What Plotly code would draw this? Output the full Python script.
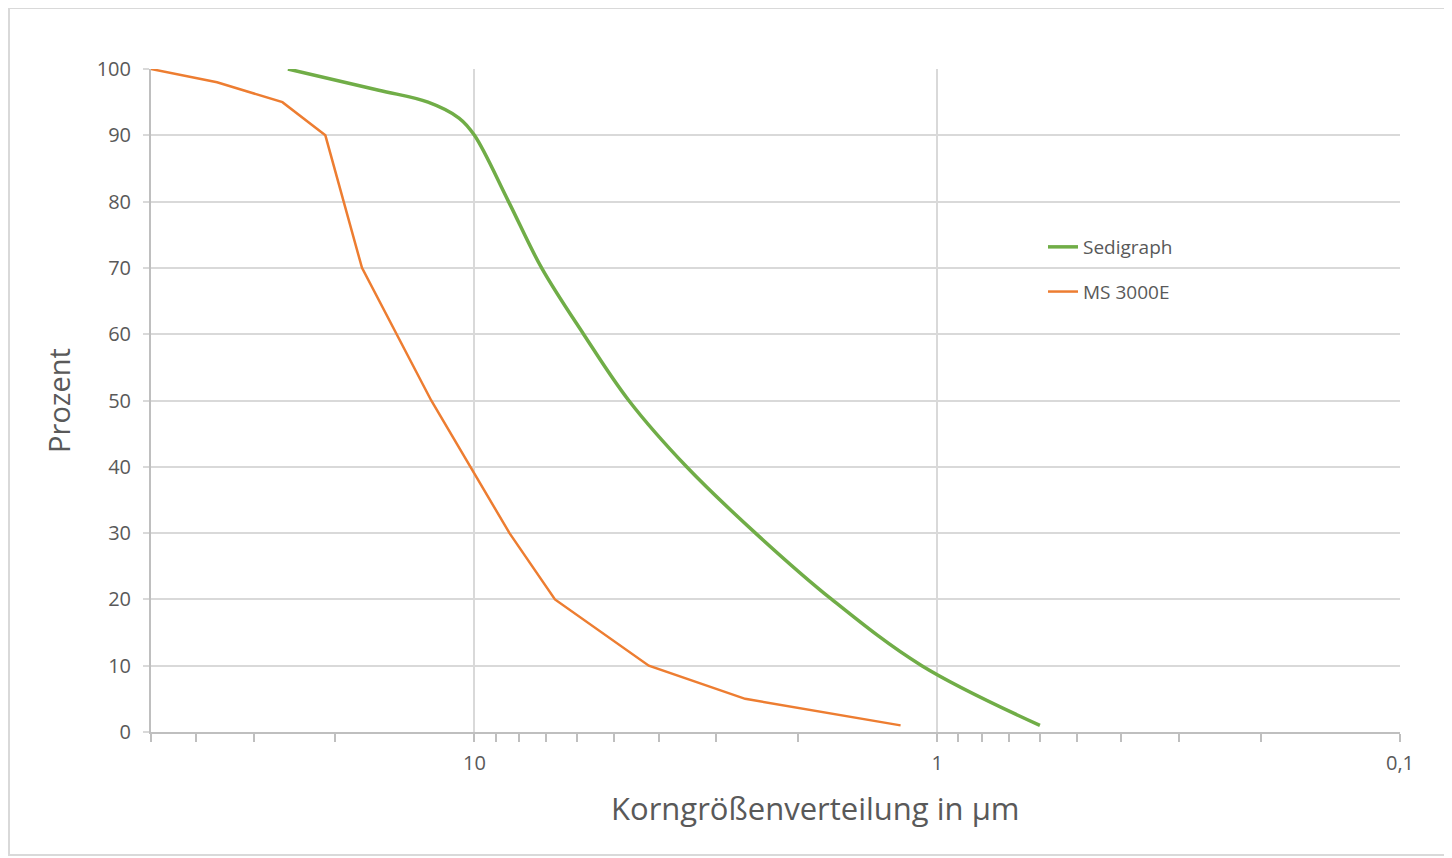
import plotly.graph_objects as go

# Korngrößen (µm) and cumulative percentages
sedigraph_x = [25.3, 16.1, 12.6, 10.8, 10.0, 8.44, 7.16, 5.81, 4.64, 3.48, 2.47, 1.69, 1.08, 0.60]
sedigraph_y = [100, 96.8, 95, 92.6, 90, 80, 70, 60, 50, 40, 30, 20, 10, 1]

ms3000_x = [50, 36, 26, 21, 17.5, 12.4, 8.4, 6.7, 4.2, 2.6, 1.2]
ms3000_y = [100, 98, 95, 90, 70, 50, 30, 20, 10, 5, 1]

major_ticks = [10, 1, 0.1]
major_labels = ["10", "1", "0,1"]
minor_ticks = [50, 40, 30, 20, 9, 8, 7, 6, 5, 4, 3, 2, 0.9, 0.8, 0.7, 0.6, 0.5, 0.4, 0.3, 0.2]

x_title = "Korngrößenverteilung in µm"
y_title = "Prozent"

FONT = "Open Sans"
TXT = "#595959"
GRID = "#d9d9d9"
AXIS = "#bfbfbf"

# page offset of the figure inside the browser window
OFF = 8
PL, PR, PT, PB = 151, 1400, 69, 732  # plot area in window pixels

fig = go.Figure()
fig.add_trace(go.Scatter(
    x=sedigraph_x, y=sedigraph_y, mode="lines", name="Sedigraph",
    line=dict(color="#70AD47", width=3.5, shape="spline", smoothing=1.0),
    legendgroup="a",
))
fig.add_trace(go.Scatter(
    x=ms3000_x, y=ms3000_y, mode="lines", name="MS 3000E",
    line=dict(color="#ED7D31", width=2.5),
    legendgroup="b",
))

W, H = 1452, 858
fig.update_layout(
    width=W, height=H,
    margin=dict(l=PL - OFF, r=W - (PR - OFF), t=PT - OFF, b=H - (PB - OFF)),
    paper_bgcolor="white", plot_bgcolor="white",
    font=dict(family=FONT, color=TXT, size=20),
    showlegend=True,
    legend=dict(
        x=(1043 - PL) / (PR - PL), y=(PB - 228) / (PB - PT), xanchor="left", yanchor="top",
        bgcolor="rgba(0,0,0,0)", font=dict(size=19, color=TXT, family=FONT),
        traceorder="grouped", tracegroupgap=17,
    ),
    shapes=[dict(
        type="rect", xref="paper", yref="paper",
        x0=(9 - PL) / (PR - PL), x1=(1448 - PL) / (PR - PL),
        y0=(PB - 855) / (PB - PT), y1=(PB - 8) / (PB - PT),
        line=dict(color=GRID, width=2), fillcolor="rgba(0,0,0,0)", layer="below",
    )],
    annotations=[dict(
        text=x_title, xref="paper", yref="paper",
        x=(815 - PL) / (PR - PL), y=(PB - 808) / (PB - PT),
        xanchor="center", yanchor="middle", showarrow=False,
        font=dict(size=31, color=TXT, family=FONT),
    )],
)

fig.update_xaxes(
    type="log", range=[1.69897, -1],
    tickvals=major_ticks, ticktext=major_labels,
    ticks="outside", ticklen=8, tickwidth=1.5, tickcolor=AXIS,
    showgrid=True, gridcolor=GRID, gridwidth=1.5,
    showline=True, linecolor=AXIS, linewidth=2,
    ticklabelstandoff=4,
    minor=dict(tickvals=minor_ticks, ticks="outside", ticklen=8, tickwidth=1.5,
               tickcolor=AXIS, showgrid=False),
    zeroline=False,
)
fig.update_yaxes(
    range=[0, 100], dtick=10,
    ticks="outside", ticklen=6, tickwidth=1.5, tickcolor=GRID,
    showgrid=True, gridcolor=GRID, gridwidth=1.5,
    showline=True, linecolor=AXIS, linewidth=2,
    ticklabelstandoff=8,
    title=dict(text=y_title, font=dict(size=29, color=TXT, family=FONT), standoff=18),
    zeroline=False,
)

fig.write_html("out.html")
